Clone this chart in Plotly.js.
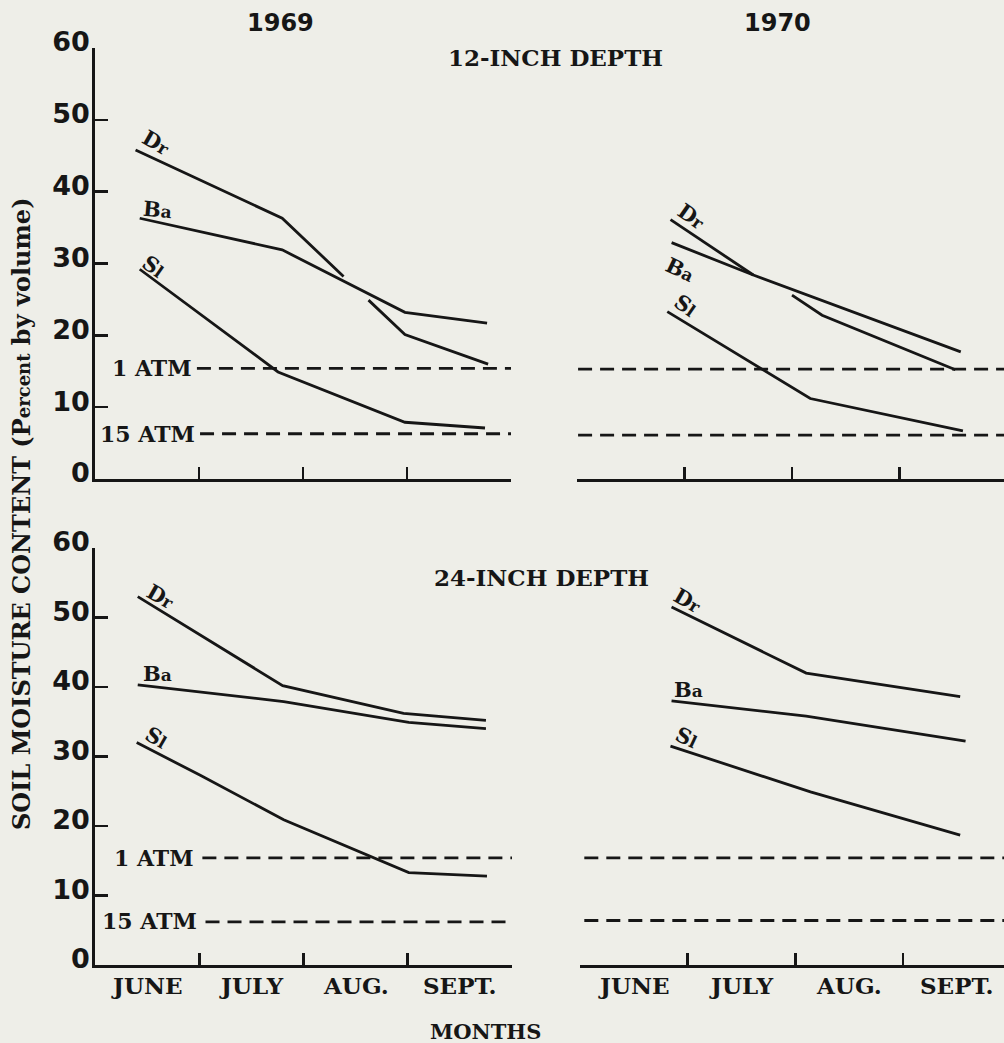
<!DOCTYPE html>
<html>
<head>
<meta charset="utf-8">
<script src="https://cdn.plot.ly/plotly-3.0.1.min.js"></script>
<style>
  html, body { margin: 0; padding: 0; background: #eeeee8; }
  #chart { width: 1004px; height: 1043px; }
</style>
</head>
<body>
<div id="chart"></div>
<script>
// ---- Data (x in month units: 0 = start of June, 4 = end of September) ----
const months = ['JUNE', 'JULY', 'AUG.', 'SEPT.'];
const monthCenters = [0.5, 1.5, 2.5, 3.5];
const monthBounds = [0, 1, 2, 3, 4];
const yTicks = [0, 10, 20, 30, 40, 50, 60];

// 12-inch depth, 1969
const dr12_1969_x = [0.39, 1.80, 2.39, null, 2.63, 2.98, 3.78];
const dr12_1969_y = [45.8, 36.3, 28.2, null, 24.9, 20.1, 16.0];
const ba12_1969_x = [0.43, 1.80, 2.98, 3.77];
const ba12_1969_y = [36.3, 31.9, 23.2, 21.7];
const sl12_1969_x = [0.43, 1.76, 2.98, 3.75];
const sl12_1969_y = [29.2, 14.9, 7.9, 7.1];

// 12-inch depth, 1970
const dr12_1970_x = [0.87, 1.64, null, 2.00, 2.28, 3.52];
const dr12_1970_y = [36.1, 28.4, null, 25.6, 22.8, 15.2];
const ba12_1970_x = [0.88, 1.64, 3.57];
const ba12_1970_y = [32.9, 28.4, 17.7];
const sl12_1970_x = [0.84, 2.17, 3.59];
const sl12_1970_y = [23.3, 11.2, 6.7];

// 24-inch depth, 1969
const dr24_1969_x = [0.41, 1.80, 2.96, 3.75];
const dr24_1969_y = [53.0, 40.2, 36.2, 35.2];
const ba24_1969_x = [0.41, 1.81, 3.01, 3.75];
const ba24_1969_y = [40.3, 37.9, 34.9, 34.0];
const sl24_1969_x = [0.40, 1.01, 1.81, 3.01, 3.76];
const sl24_1969_y = [32.0, 27.3, 20.9, 13.3, 12.8];

// 24-inch depth, 1970
const dr24_1970_x = [0.85, 2.10, 3.53];
const dr24_1970_y = [51.5, 42.0, 38.6];
const ba24_1970_x = [0.85, 2.10, 3.58];
const ba24_1970_y = [38.0, 35.8, 32.2];
const sl24_1970_x = [0.84, 2.14, 3.53];
const sl24_1970_y = [31.5, 24.9, 18.7];

// Reference moisture levels (1 ATM and 15 ATM) per panel: [TL, TR, BL, BR]
const atm1_level = [15.4, 15.3, 15.4, 15.4];
const atm15_level = [6.3, 6.1, 6.2, 6.4];
const atm_xstart = [0.98, 0.01, 1.03, 0.04];
const atm15_xstart = [1.01, 0.01, 1.06, 0.04];
const atm_xend = [4.0, 3.98, 4.0, 3.94];

// ---- Styling helpers ----
const INK = '#161616';
const BG = '#eeeee8';
const SERIF = 'DejaVu Serif';
const SANS = 'DejaVu Sans';
const W = 1004, H = 1043;
const px = v => v / W;
const py = v => 1 - v / H;

const axes = [['x', 'y'], ['x2', 'y2'], ['x3', 'y3'], ['x4', 'y4']];
const series = [
  [[dr12_1969_x, dr12_1969_y], [ba12_1969_x, ba12_1969_y], [sl12_1969_x, sl12_1969_y]],
  [[dr12_1970_x, dr12_1970_y], [ba12_1970_x, ba12_1970_y], [sl12_1970_x, sl12_1970_y]],
  [[dr24_1969_x, dr24_1969_y], [ba24_1969_x, ba24_1969_y], [sl24_1969_x, sl24_1969_y]],
  [[dr24_1970_x, dr24_1970_y], [ba24_1970_x, ba24_1970_y], [sl24_1970_x, sl24_1970_y]]
];

const traces = [];
series.forEach((panel, i) => {
  panel.forEach(s => {
    traces.push({
      x: s[0], y: s[1], xaxis: axes[i][0], yaxis: axes[i][1],
      type: 'scatter', mode: 'lines', connectgaps: false,
      line: { color: INK, width: 2.8 }, hoverinfo: 'skip', showlegend: false
    });
  });
  traces.push({
    x: [atm_xstart[i], atm_xend[i]], y: [atm1_level[i], atm1_level[i]],
    xaxis: axes[i][0], yaxis: axes[i][1], type: 'scatter', mode: 'lines',
    line: { color: INK, width: 2.8, dash: '14px,8px' }, hoverinfo: 'skip', showlegend: false
  });
  traces.push({
    x: [atm15_xstart[i], atm_xend[i]], y: [atm15_level[i], atm15_level[i]],
    xaxis: axes[i][0], yaxis: axes[i][1], type: 'scatter', mode: 'lines',
    line: { color: INK, width: 2.8, dash: '14px,8px' }, hoverinfo: 'skip', showlegend: false
  });
});

function xAxis(domain, range, anchor) {
  return {
    domain: domain, range: range, anchor: anchor,
    showgrid: false, zeroline: false, showline: true, linecolor: INK, linewidth: 2.8,
    tickmode: 'array', tickvals: monthBounds, ticktext: monthBounds.map(() => ''),
    ticks: 'inside', ticklen: 12, tickwidth: 2.6, tickcolor: INK,
    fixedrange: true
  };
}
function yAxisLeft(domain, anchor) {
  return {
    domain: domain, range: [0, 60], anchor: anchor,
    showgrid: false, zeroline: false, showline: true, linecolor: INK, linewidth: 2.8,
    tickmode: 'array', tickvals: yTicks, ticktext: yTicks.map(String),
    ticks: 'inside', ticklen: 13, tickwidth: 2.6, tickcolor: INK,
    tickfont: { family: SANS, size: 27, color: INK, weight: 'bold' },
    ticklabelshift: -6, ticklabelstandoff: -3,
    fixedrange: true
  };
}
function yAxisHidden(domain, anchor) {
  return { domain: domain, range: [0, 60], anchor: anchor, visible: false, fixedrange: true };
}

const topDom = [py(479), py(48)];
const botDom = [py(965), py(548)];

const annotations = [];
function txt(text, x, y, size, family, opts) {
  annotations.push(Object.assign({
    text: text, x: px(x), y: py(y), xref: 'paper', yref: 'paper',
    showarrow: false, xanchor: 'center', yanchor: 'middle',
    font: { family: family, size: size, color: INK, weight: 'bold' }
  }, opts || {}));
}

// Year headers and depth titles
txt('1969', 280, 23, 24, SANS);
txt('1970', 777, 23, 24, SANS);
txt('12-INCH DEPTH', 555, 58, 23, SERIF);
txt('24-INCH DEPTH', 541, 577, 23, SERIF);

// Axis titles
txt('SOIL MOISTURE CONTENT (P<span style="font-size:18px">ercent</span> by volume)', 21, 514, 24, SERIF, { textangle: -90 });
txt('MONTHS', 485, 1031, 21, SERIF);

// Month labels under bottom panels
months.forEach((m, k) => {
  annotations.push({ text: m, x: monthCenters[k], y: py(985), xref: 'x3', yref: 'paper',
    showarrow: false, xanchor: 'center', yanchor: 'middle',
    font: { family: SERIF, size: 23, color: INK, weight: 'bold' } });
  annotations.push({ text: m, x: monthCenters[k], y: py(985), xref: 'x4', yref: 'paper',
    showarrow: false, xanchor: 'center', yanchor: 'middle',
    font: { family: SERIF, size: 23, color: INK, weight: 'bold' } });
});

// ATM labels on left panels
txt('1 ATM', 194, 368, 22, SERIF, { xanchor: 'right' });
txt('15 ATM', 197, 434, 22, SERIF, { xanchor: 'right' });
txt('1 ATM', 196, 858, 22, SERIF, { xanchor: 'right' });
txt('15 ATM', 199, 921, 22, SERIF, { xanchor: 'right' });

// Series labels
const lbl = (t, x, y, ang) => txt(t, x, y, 21, SERIF, { textangle: ang });
const DR = 'D<span style="font-size:17px">r</span>';
const BA = 'B<span style="font-size:17px">a</span>';
const SL = 'S<span style="font-size:17px">l</span>';
lbl(DR, 156, 143, 30);
lbl(BA, 157, 210, 5);
lbl(SL, 154, 266, 35);
lbl(DR, 692, 216, 35);
lbl(BA, 680, 269, 25);
lbl(SL, 686, 305, 35);
lbl(DR, 161, 596, 30);
lbl(BA, 157, 673, 0);
lbl(SL, 157, 737, 30);
lbl(DR, 688, 600, 30);
lbl(BA, 688, 689, 0);
lbl(SL, 687, 737, 25);

const layout = {
  width: W, height: H,
  margin: { l: 0, r: 0, t: 0, b: 0 },
  paper_bgcolor: BG, plot_bgcolor: 'rgba(0,0,0,0)',
  showlegend: false,
  xaxis: xAxis([px(95), px(511)], [0, 4], 'y'),
  yaxis: yAxisLeft(topDom, 'x'),
  xaxis2: xAxis([px(577), 1], [0, (1004 - 577) / 107.5], 'y2'),
  yaxis2: yAxisHidden(topDom, 'x2'),
  xaxis3: xAxis([px(95), px(512)], [0, 4], 'y3'),
  yaxis3: yAxisLeft(botDom, 'x3'),
  xaxis4: xAxis([px(580), 1], [0, (1004 - 580) / 107.7], 'y4'),
  yaxis4: yAxisHidden(botDom, 'x4'),
  annotations: annotations
};

Plotly.newPlot('chart', traces, layout, { displayModeBar: false, staticPlot: true });
</script>
</body>
</html>
